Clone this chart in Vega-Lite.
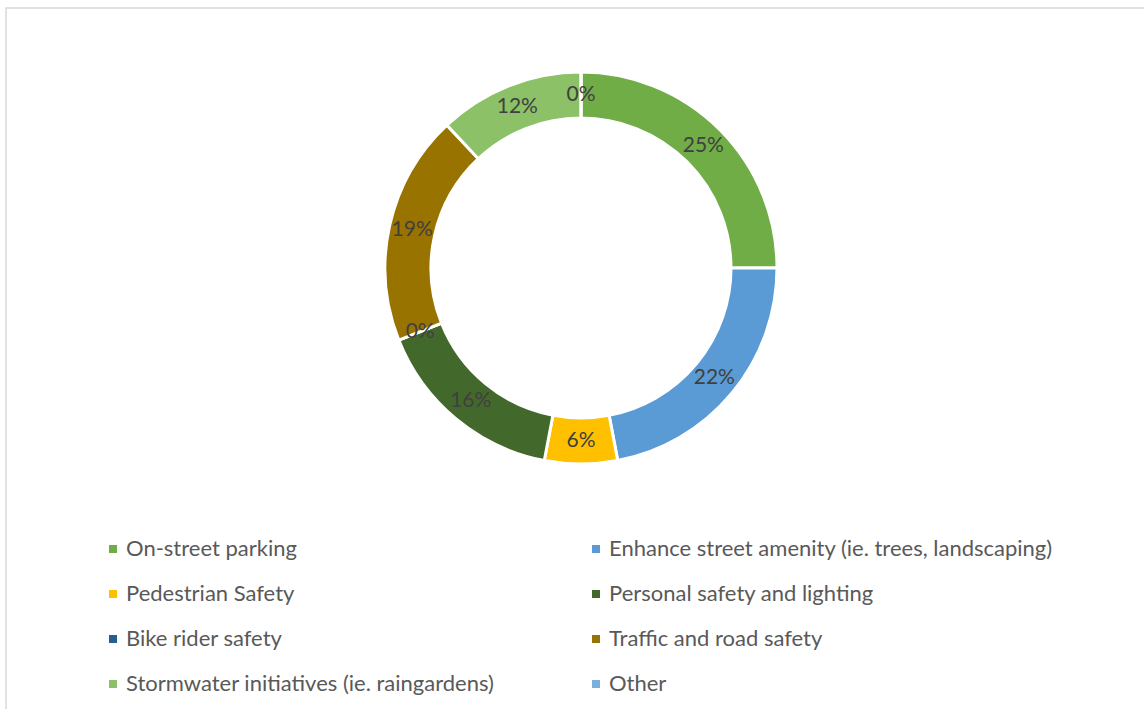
{
  "$schema": "https://vega.github.io/schema/vega-lite/v6.json",
  "width": 1150,
  "height": 720,
  "autosize": "none",
  "padding": {"left": 6, "top": 8, "right": 0, "bottom": 0},
  "background": "white",
  "config": {"view": {"stroke": "#d9d9d9", "strokeWidth": 1.5}},
  "data": {
    "values": [
      {"idx": 1, "category": "On-street parking", "value": 25, "label": "25%"},
      {"idx": 2, "category": "Enhance street amenity (ie. trees, landscaping)", "value": 22, "label": "22%"},
      {"idx": 3, "category": "Pedestrian Safety", "value": 6, "label": "6%"},
      {"idx": 4, "category": "Personal safety and lighting", "value": 16, "label": "16%"},
      {"idx": 5, "category": "Bike rider safety", "value": 0, "label": "0%"},
      {"idx": 6, "category": "Traffic and road safety", "value": 19, "label": "19%"},
      {"idx": 7, "category": "Stormwater initiatives (ie. raingardens)", "value": 12, "label": "12%"},
      {"idx": 8, "category": "Other", "value": 0, "label": "0%"}
    ]
  },
  "encoding": {
    "theta": {"field": "value", "type": "quantitative", "stack": true},
    "order": {"field": "idx", "type": "quantitative"},
    "x": {"value": 575},
    "y": {"value": 260}
  },
  "layer": [
    {
      "mark": {"type": "arc", "outerRadius": 196, "innerRadius": 150, "stroke": "white", "strokeWidth": 3},
      "encoding": {
        "color": {
          "field": "category",
          "type": "nominal",
          "scale": {
            "domain": [
              "On-street parking",
              "Pedestrian Safety",
              "Bike rider safety",
              "Stormwater initiatives (ie. raingardens)",
              "Enhance street amenity (ie. trees, landscaping)",
              "Personal safety and lighting",
              "Traffic and road safety",
              "Other"
            ],
            "range": ["#70AD47", "#FFC000", "#255E91", "#8CC168", "#5B9BD5", "#43682B", "#997300", "#7CAFDD"]
          },
          "legend": {
            "orient": "none",
            "legendX": 96,
            "legendY": 530,
            "columns": 2,
            "columnPadding": 90,
            "rowPadding": 23,
            "padding": 0,
            "title": null,
            "symbolType": "square",
            "symbolSize": 64,
            "symbolStrokeWidth": 0,
            "labelFontSize": 22,
            "labelFont": "Lato",
            "labelColor": "#595959",
            "labelOffset": 2,
            "labelLimit": 600
          }
        }
      }
    },
    {
      "mark": {"type": "text", "radius": 173, "fontSize": 21, "font": "Lato", "fill": "#404040"},
      "encoding": {
        "detail": {"field": "category", "type": "nominal"},
        "text": {"field": "label", "type": "nominal"}
      }
    }
  ]
}
